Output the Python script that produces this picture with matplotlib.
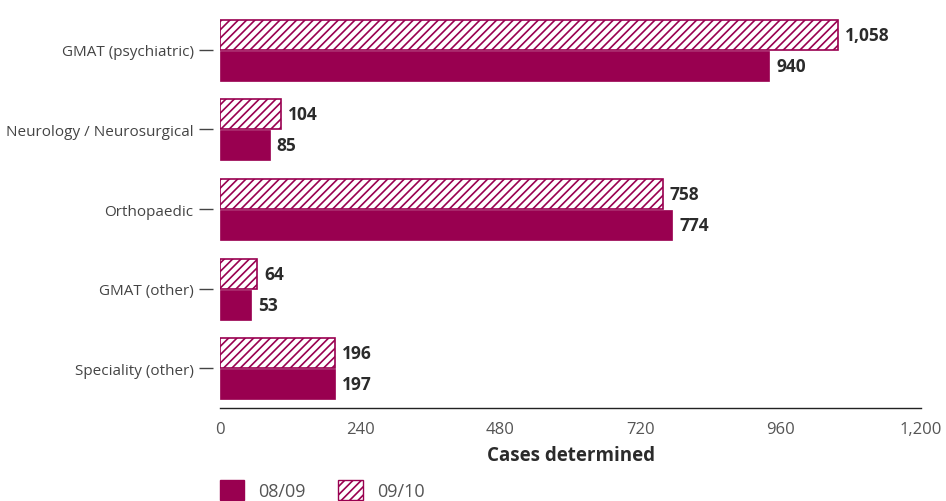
import matplotlib
matplotlib.use("Agg")
import matplotlib.pyplot as plt
from matplotlib.patches import Patch
import numpy as np

plt.rcParams["font.family"] = ["Open Sans", "DejaVu Sans"]
plt.rcParams["hatch.linewidth"] = 1.2

# Data
categories = ["GMAT (psychiatric)", "Neurology / Neurosurgical", "Orthopaedic",
              "GMAT (other)", "Speciality (other)"]
cases_0809 = [940, 85, 774, 53, 197]
cases_0910 = [1058, 104, 758, 64, 196]
x_ticks = [0, 240, 480, 720, 960, 1200]
x_ticklabels = ["0", "240", "480", "720", "960", "1,200"]

color = "#990050"
text_dark = "#2b2b2b"

fig = plt.figure(figsize=(9.46, 5.02), dpi=100)
ax = fig.add_axes([0.2326, 0.185, 0.741, 0.793])

y = np.arange(len(categories))
h = 0.375
ax.barh(y - 0.19, cases_0910, height=h, facecolor="white", edgecolor=color,
        hatch="////", linewidth=1.2)
ax.barh(y + 0.2, cases_0809, height=h, color=color, edgecolor=color, linewidth=0.5)

for yi, v in zip(y, cases_0910):
    ax.text(v + 12, yi - 0.19, f"{v:,}", va="center", ha="left",
            fontsize=12.5, fontweight="bold", color=text_dark)
for yi, v in zip(y, cases_0809):
    ax.text(v + 12, yi + 0.2, f"{v:,}", va="center", ha="left",
            fontsize=12.5, fontweight="bold", color=text_dark)

ax.set_xlim(0, 1200)
ax.set_ylim(4.5, -0.5)
ax.set_xticks(x_ticks)
ax.set_xticklabels(x_ticklabels)
ax.tick_params(axis="x", length=0, pad=9, labelsize=12, labelcolor="#555555")
ax.set_yticks(y)
ax.set_yticklabels(categories)
ax.tick_params(axis="y", length=10, width=1, color="#444444", pad=4, direction="out",
               labelsize=11, labelcolor="#444444")

for s in ["top", "right"]:
    ax.spines[s].set_visible(False)
ax.spines["left"].set_position(("outward", 5))
ax.spines["left"].set_visible(False)
ax.spines["bottom"].set_color("#222222")
ax.spines["bottom"].set_linewidth(1)

ax.set_xlabel("Cases determined", fontsize=13.5, fontweight="bold", color=text_dark, labelpad=6)

handles = [Patch(facecolor=color, edgecolor=color, label="08/09"),
           Patch(facecolor="white", edgecolor=color, hatch="////", label="09/10")]
fig.legend(handles=handles, loc="lower left", bbox_to_anchor=(0.215, -0.03), ncol=2,
           frameon=False, fontsize=13, handlelength=1.35, handleheight=1.3,
           columnspacing=1.8, labelcolor="#555555")

fig.savefig("out.png", dpi=100)
